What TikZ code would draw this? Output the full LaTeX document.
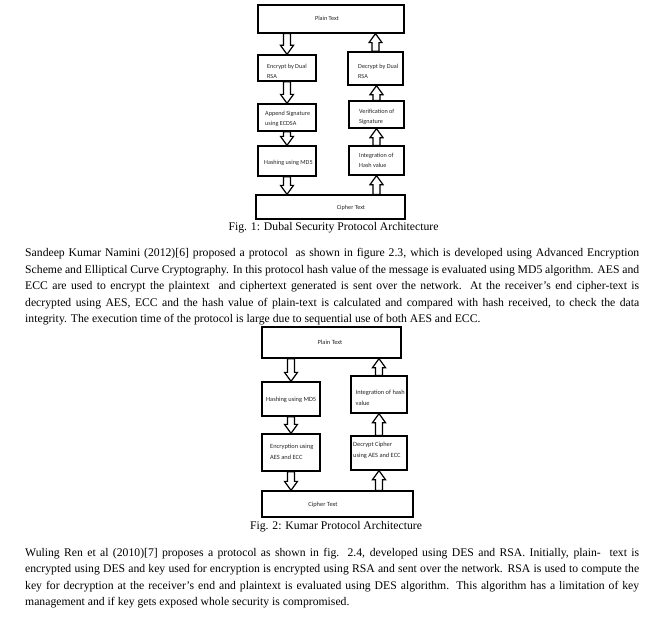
\documentclass[tikz,border=0pt]{standalone}
\usepackage{fontspec}
\setmainfont{Liberation Serif}
\newfontfamily\diagfont{Carlito}
\usetikzlibrary{calc,backgrounds}
\newcommand\lbltab[1]{\begin{tabular}[t]{@{}l@{}}#1\end{tabular}}
\newcommand\jline[1]{\makebox[614pt][s]{#1}}
\tikzset{
  box/.style={draw=black, line width=1.3pt, inner sep=0pt},
  lblA/.style={inner sep=0pt, text=black!85, anchor=base west, font=\diagfont\fontsize{6.2}{10}\selectfont},
  lblB/.style={inner sep=0pt, text=black!85, anchor=base west, font=\diagfont\fontsize{6.4}{11}\selectfont},
  body/.style={inner sep=0pt, anchor=base west, font=\fontsize{11.7}{14}\selectfont},
  figcap/.style={inner sep=0pt, anchor=base, font=\fontsize{11.7}{14}\selectfont},
  adown/.style={draw=black, fill=white, line width=1.2pt,
    to path={let \p1=(\tikztostart), \p2=(\tikztotarget) in
      (\x1-3.5pt,\y1) -- (\x1-3.5pt,\y2+9pt) -- (\x1-6.5pt,\y2+9pt) -- (\x1,\y2)
      -- (\x1+6.5pt,\y2+9pt) -- (\x1+3.5pt,\y2+9pt) -- (\x1+3.5pt,\y1) -- cycle}},
  aup/.style={draw=black, fill=white, line width=1.2pt,
    to path={let \p1=(\tikztostart), \p2=(\tikztotarget) in
      (\x1-3.5pt,\y1) -- (\x1-3.5pt,\y2-9pt) -- (\x1-6.5pt,\y2-9pt) -- (\x1,\y2)
      -- (\x1+6.5pt,\y2-9pt) -- (\x1+3.5pt,\y2-9pt) -- (\x1+3.5pt,\y1) -- cycle}}
}
\begin{document}
\begin{tikzpicture}[x=1pt,y=-1pt]
\useasboundingbox (0,0) rectangle (663,618);
\begin{scope}[on background layer]
\fill[white] (0,0) rectangle (663,618);
\end{scope}

% ---------- Figure 1 ----------
\node[box, minimum width=146pt, minimum height=28pt] (pt1) at (331,19) {};
\node[box, minimum width=58pt, minimum height=26pt] (enc1) at (287,68) {};
\node[box, minimum width=58pt, minimum height=27pt] (app1) at (287,117.5) {};
\node[box, minimum width=58pt, minimum height=30pt] (hash1) at (287,161) {};
\node[box, minimum width=149pt, minimum height=24pt] (ct1) at (330.5,207) {};
\node[box, minimum width=55pt, minimum height=33pt] (dec1) at (375.5,68.5) {};
\node[box, minimum width=55pt, minimum height=27pt] (ver1) at (376.5,114.5) {};
\node[box, minimum width=55pt, minimum height=29pt] (int1) at (376.5,160.5) {};

\node[lblA, anchor=base] (pt1t) at (327,20.5) {Plain Text};
\node[lblA] (enc1t) at (267,68.5) {\lbltab{Encrypt by Dual\\RSA}};
\node[lblA] (app1t) at (265,115) {\lbltab{Append Signature\\using ECDSA}};
\node[lblA] (hash1t) at (264,164) {Hashing using MD5};
\node[lblA, anchor=base] (ct1t) at (351,209) {Cipher Text};
\node[lblA] (dec1t) at (358,68) {\lbltab{Decrypt by Dual\\RSA}};
\node[lblA] (ver1t) at (359,113) {\lbltab{Verification of\\Signature}};
\node[lblA] (int1t) at (359,157) {\lbltab{Integration of\\Hash value}};

\node[figcap] (cap1) at (333.5,230) {Fig. 1: Dubal Security Protocol Architecture};

\begin{scope}[on background layer]
\draw[adown] (enc1.north |- pt1.south) to (enc1.north);
\draw[adown] (app1.north |- enc1.south) to (app1.north);
\draw[adown] (hash1.north |- app1.south) to (hash1.north);
\draw[adown] (hash1.south) to (hash1.south |- ct1.north);
\draw[aup] (int1.south |- ct1.north) to (int1.south);
\draw[aup] (int1.north) to (int1.north |- ver1.south);
\draw[aup] (ver1.north) to (ver1.north |- dec1.south);
\draw[aup] (dec1.north) to (dec1.north |- pt1.south);
\end{scope}

% ---------- Paragraph 1 ----------
\node[body] (p1a) at (25,256.5) {\jline{Sandeep Kumar Namini (2012)[6] proposed a protocol\ \ as shown in figure 2.3, which is developed using Advanced Encryption}};
\node[body] (p1b) at (25,273) {\jline{Scheme and Elliptical Curve Cryptography. In this protocol hash value of the message is evaluated using MD5 algorithm. AES and}};
\node[body] (p1c) at (25,289.5) {\jline{ECC are used to encrypt the plaintext\ \ and ciphertext generated is sent over the network. At the receiver’s end cipher-text is}};
\node[body] (p1d) at (25,306) {\jline{decrypted using AES, ECC and the hash value of plain-text is calculated and compared with hash received, to check the data}};
\node[body] (p1e) at (25,322.5) {integrity. The execution time of the protocol is large due to sequential use of both AES and ECC.};

% ---------- Figure 2 ----------
\node[box, minimum width=139pt, minimum height=31pt] (pt2) at (331.5,342.5) {};
\node[box, minimum width=58pt, minimum height=34pt] (hash2) at (291,399) {};
\node[box, minimum width=58pt, minimum height=37pt] (enc2) at (291,452.5) {};
\node[box, minimum width=151pt, minimum height=26pt] (ct2) at (337.5,504) {};
\node[box, minimum width=56pt, minimum height=37pt] (int2) at (379,394.5) {};
\node[box, minimum width=56pt, minimum height=34pt] (dec2) at (379,453) {};

\node[lblB, anchor=base] (pt2t) at (330,344) {Plain Text};
\node[lblB] (hash2t) at (266,401) {Hashing using MD5};
\node[lblB] (enc2t) at (270,448) {\lbltab{Encryption using\\AES and ECC}};
\node[lblB, anchor=base] (ct2t) at (323,506) {Cipher Text};
\node[lblB] (int2t) at (355.5,394) {\lbltab{Integration of hash\\value}};
\node[lblB] (dec2t) at (353,446) {\lbltab{Decrypt Cipher\\using AES and ECC}};

\node[figcap] (cap2) at (336,529) {Fig. 2: Kumar Protocol Architecture};

\begin{scope}[on background layer]
\draw[adown] (hash2.north |- pt2.south) to (hash2.north);
\draw[adown] (enc2.north |- hash2.south) to (enc2.north);
\draw[adown] (enc2.south) to (enc2.south |- ct2.north);
\draw[aup] (dec2.south |- ct2.north) to (dec2.south);
\draw[aup] (dec2.north) to (dec2.north |- int2.south);
\draw[aup] (int2.north) to (int2.north |- pt2.south);
\end{scope}

% ---------- Paragraph 2 ----------
\node[body] (p2a) at (25,556) {\jline{Wuling Ren et al (2010)[7] proposes a protocol as shown in fig. 2.4, developed using DES and RSA. Initially, plain-\ \ text is}};
\node[body] (p2b) at (25,572.5) {\jline{encrypted using DES and key used for encryption is encrypted using RSA and sent over the network. RSA is used to compute the}};
\node[body] (p2c) at (25,589) {\jline{key for decryption at the receiver’s end and plaintext is evaluated using DES algorithm. This algorithm has a limitation of key}};
\node[body] (p2d) at (25,605.5) {management and if key gets exposed whole security is compromised.};
\end{tikzpicture}
\end{document}
